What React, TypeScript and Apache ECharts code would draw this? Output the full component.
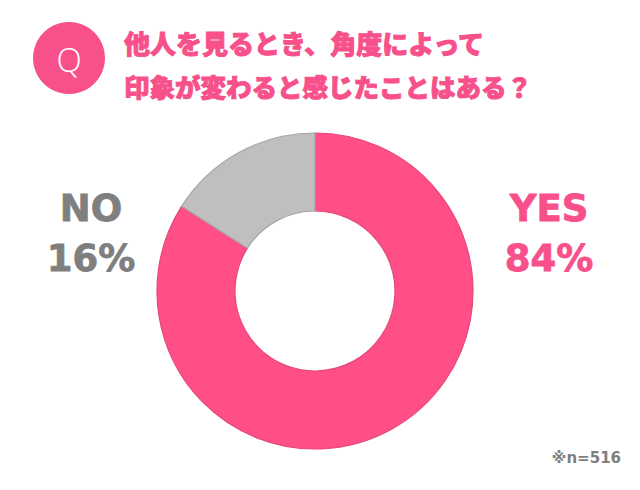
import React, { useEffect, useRef } from "react";
import * as echarts from "echarts";

const categories = ["YES", "NO"];
const values = [84, 16];
const colors = ["#FF4F86", "#BFBFBF"];
const borderColors = ["#E5487A", "#A6A6A6"];
const labelColors = ["#F7508A", "#7F7F7F"];
const titleLines = ["他人を見るとき、角度によって", "印象が変わると感じたことはある？"];
const noteText = "※n=516";

export default function App() {
  const ref = useRef<HTMLDivElement>(null);
  useEffect(() => {
    document.body.style.margin = "0";
    const chart = echarts.init(ref.current!, null, { renderer: "svg" });
    const labelPos = [
      { x: 549, y: 233 },
      { x: 91, y: 233 },
    ];
    chart.setOption({
      animation: false,
      backgroundColor: "#ffffff",
      graphic: [
        {
          type: "circle",
          shape: { cx: 69, cy: 58, r: 36 },
          style: { fill: "#F7508A" },
        },
        {
          type: "text",
          x: 69,
          y: 59,
          style: {
            text: "Q",
            fill: "#ffffff",
            font: "300 33px 'Open Sans', sans-serif",
            align: "center",
            verticalAlign: "middle",
          },
        },
        {
          type: "text",
          x: 124,
          y: 42,
          style: {
            text: titleLines[0],
            fill: "#F7508A",
            stroke: "#F7508A",
            lineWidth: 0.9,
            font: "900 26px 'Noto Sans CJK JP', sans-serif",
            align: "left",
            verticalAlign: "middle",
          },
        },
        {
          type: "text",
          x: 124,
          y: 85,
          style: {
            text: titleLines[1],
            fill: "#F7508A",
            stroke: "#F7508A",
            lineWidth: 0.9,
            font: "900 25.5px 'Noto Sans CJK JP', sans-serif",
            align: "left",
            verticalAlign: "middle",
          },
        },
        {
          type: "text",
          x: 621,
          y: 458,
          style: {
            text: noteText,
            fill: "#7F7F7F",
            font: "bold 15px 'DejaVu Sans', sans-serif",
            align: "right",
            verticalAlign: "middle",
          },
        },
      ],
      series: [
        {
          type: "pie",
          center: [315, 291],
          radius: [80, 158],
          startAngle: 90,
          clockwise: true,
          silent: true,
          data: categories.map((name, i) => ({
            name,
            value: values[i],
            itemStyle: {
              color: colors[i],
              borderColor: borderColors[i],
              borderWidth: 1.2,
            },
            label: {
              color: labelColors[i],
              textBorderColor: labelColors[i],
            },
          })),
          label: {
            show: true,
            formatter: (p: any) => `${p.name}\n${p.value}%`,
            fontFamily: "'DejaVu Sans', Verdana, sans-serif",
            fontWeight: "bold",
            fontSize: 37,
            lineHeight: 50,
            textBorderWidth: 0.8,
            align: "center",
          },
          labelLine: { show: false },
          labelLayout: (params: any) => ({
            x: labelPos[params.dataIndex].x,
            y: labelPos[params.dataIndex].y,
            align: "center",
            verticalAlign: "middle",
          }),
        },
      ],
    });
    return () => chart.dispose();
  }, []);
  return <div ref={ref} style={{ width: 640, height: 490 }} />;
}
